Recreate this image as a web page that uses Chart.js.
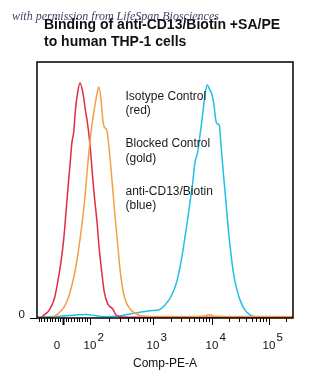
<!DOCTYPE html>
<html>
<head>
<meta charset="utf-8">
<script src="https://cdn.jsdelivr.net/npm/chart.js@4/dist/chart.umd.min.js"></script>
<style>
  body { margin: 0; background: #fff; }
  canvas { display: block; }
</style>
</head>
<body>
<canvas id="histChart" width="336" height="381"></canvas>
<script>
// x values are display channels (0-1024, biexponential axis), y is % of max
const redX    = [0, 9, 29, 49, 69, 83, 96, 107, 116, 125, 133, 140, 147, 153, 163, 172, 183, 193, 203, 212, 220, 229, 240, 249, 259, 269, 283, 303, 316, 340, 400, 600, 800, 1024];
const redY    = [0, 0, 1.2, 3.1, 7.4, 14.1, 21.9, 30.9, 41.4, 52.0, 60.9, 68.8, 72.7, 80.5, 88.3, 91.8, 88.3, 81.6, 75.4, 67.6, 58.2, 48.0, 37.5, 27.0, 18.0, 10.2, 5.5, 3.5, 1.2, 0.4, 0.3, 0.3, 0.3, 0.2];

const goldX   = [0, 49, 83, 109, 129, 149, 163, 176, 187, 196, 205, 213, 223, 232, 239, 247, 256, 263, 269, 279, 287, 296, 305, 313, 323, 332, 343, 356, 376, 396, 420, 500, 600, 670, 690, 710, 800, 900, 1024];
const goldY   = [0, 0, 1.6, 4.3, 9.0, 16.8, 24.6, 33.6, 42.6, 52.0, 62.1, 69.9, 77.7, 83.2, 87.1, 90.2, 85.5, 77.7, 74.6, 73.4, 67.6, 58.2, 48.0, 38.7, 28.5, 19.1, 11.3, 6.3, 3.1, 1.6, 0.8, 0.6, 0.6, 0.8, 1.3, 0.7, 0.6, 0.6, 0.6];

const blueX   = [0, 48, 103, 156, 196, 232, 263, 329, 396, 463, 485, 512, 539, 559, 576, 589, 601, 612, 623, 632, 643, 652, 659, 665, 672, 681, 689, 699, 708, 715, 721, 729, 736, 745, 756, 765, 775, 785, 799, 815, 832, 852, 876, 950, 1024];
const blueY   = [0.4, 0.5, 0.8, 1.2, 1.4, 1.0, 0.5, 0.8, 2.0, 2.9, 3.1, 5.1, 9.0, 14.1, 21.9, 29.7, 37.5, 45.3, 53.1, 60.9, 64.8, 71.5, 76.6, 81.6, 87.1, 91.1, 89.6, 87.6, 83.2, 77.3, 75.8, 75.4, 67.6, 57.0, 45.3, 34.8, 25.8, 18.0, 11.3, 6.3, 3.1, 1.2, 0.4, 0.2, 0.2];

// decade ticks on the biexponential axis
const majorTickX      = [104, 212, 464, 700, 928];
const majorTickBase   = ['0', '10', '10', '10', '10'];
const majorTickExp    = ['', '2', '3', '4', '5'];

const titleLines  = ['Binding of anti-CD13/Biotin +SA/PE', 'to human THP-1 cells'];
const legendLines = [['Isotype Control', '(red)'], ['Blocked Control', '(gold)'], ['anti-CD13/Biotin', '(blue)']];
const xTitle = 'Comp-PE-A';
const watermark = 'with permission from LifeSpan Biosciences';

const FONT = '"Liberation Sans", Arial, sans-serif';

function toPoints(xs, ys) {
    return xs.map((x, i) => ({ x: x, y: ys[i] }));
}

// minor tick channels: linear around zero, log inside each decade
function minorTicks() {
    const out = [];
    const lin = (majorTickX[1] - majorTickX[0]) / 10;
    for (let k = 1; k <= 9; k++) {
        out.push(majorTickX[0] - k * lin);
        out.push(majorTickX[0] + k * lin);
    }
    for (let d = 1; d < majorTickX.length; d++) {
        const a = majorTickX[d];
        const span = d < majorTickX.length - 1 ? majorTickX[d + 1] - a : majorTickX[d] - majorTickX[d - 1];
        for (let k = 2; k <= 9; k++) {
            const p = a + Math.log10(k) * span;
            if (p <= 1024) out.push(p);
        }
    }
    return out;
}

const decorations = {
    id: 'decorations',
    afterDraw(chart) {
        const ctx = chart.ctx;
        const area = chart.chartArea;
        const xs = chart.scales.x;
        ctx.save();

        // plot frame
        ctx.strokeStyle = '#000';
        ctx.lineWidth = 1.5;
        ctx.strokeRect(area.left, area.top, area.right - area.left, area.bottom - area.top);

        // x ticks
        ctx.lineWidth = 1;
        minorTicks().forEach(v => {
            const px = Math.round(xs.getPixelForValue(v)) + 0.5;
            ctx.beginPath();
            ctx.moveTo(px, area.bottom);
            ctx.lineTo(px, area.bottom + 4);
            ctx.stroke();
        });
        majorTickX.forEach((v, i) => {
            const px = Math.round(xs.getPixelForValue(v)) + 0.5;
            ctx.lineWidth = i === 0 ? 2 : 1;
            ctx.beginPath();
            ctx.moveTo(px, area.bottom);
            ctx.lineTo(px, area.bottom + 7);
            ctx.stroke();
        });

        // x tick labels
        ctx.fillStyle = '#111';
        ctx.font = '11.5px ' + FONT;
        ctx.textBaseline = 'alphabetic';
        majorTickX.forEach((v, i) => {
            const px = xs.getPixelForValue(v);
            if (!majorTickExp[i]) {
                ctx.textAlign = 'center';
                ctx.fillText(majorTickBase[i], px - 6, 349);
                return;
            }
            ctx.textAlign = 'center';
            ctx.fillText(majorTickBase[i], px, 349);
            const w = ctx.measureText(majorTickBase[i]).width;
            ctx.textAlign = 'left';
            ctx.fillText(majorTickExp[i], px + w / 2 + 1, 341);
        });

        // x title
        ctx.font = '12px ' + FONT;
        ctx.textAlign = 'center';
        ctx.fillText(xTitle, (area.left + area.right) / 2, 366.5);

        // legend text inside plot
        ctx.textAlign = 'left';
        ctx.fillStyle = '#1a1a1a';
        legendLines.forEach((pair, g) => {
            const base = 99.5 + g * 47.5;
            ctx.fillText(pair[0], 125.5, base);
            ctx.fillText(pair[1], 125.5, base + 14.5);
        });

        // title
        ctx.fillStyle = '#111';
        ctx.font = 'bold 14px ' + FONT;
        ctx.fillText(titleLines[0], 44, 28.5);
        ctx.fillText(titleLines[1], 44, 46);

        // watermark
        ctx.fillStyle = '#3b4663';
        ctx.font = 'italic 12px "Liberation Serif", serif';
        ctx.fillText(watermark, 12, 19.5);

        ctx.restore();
    }
};

const lineStyle = { borderWidth: 1.5, pointRadius: 0, fill: false, cubicInterpolationMode: 'monotone' };

new Chart(document.getElementById('histChart').getContext('2d'), {
    type: 'line',
    data: {
        datasets: [
            Object.assign({ label: 'Blocked Control', data: toPoints(goldX, goldY), borderColor: '#f2a043' }, lineStyle),
            Object.assign({ label: 'Isotype Control', data: toPoints(redX, redY), borderColor: '#e22a4a' }, lineStyle),
            Object.assign({ label: 'anti-CD13/Biotin', data: toPoints(blueX, blueY), borderColor: '#22bfe6' }, lineStyle)
        ]
    },
    options: {
        responsive: false,
        animation: false,
        devicePixelRatio: 1,
        layout: { padding: { top: 62, right: 43, left: 0, bottom: 0 } },
        plugins: { legend: { display: false }, tooltip: { enabled: false } },
        scales: {
            x: {
                type: 'linear',
                min: 0,
                max: 1024,
                ticks: { display: false },
                grid: { display: false },
                border: { display: false },
                afterFit: s => { s.height = 63; }
            },
            y: {
                min: 0,
                max: 100,
                afterBuildTicks: s => { s.ticks = [{ value: 0 }]; },
                ticks: { color: '#111', font: { size: 11.5, family: FONT }, padding: 5, labelOffset: -3, callback: v => String(v) },
                grid: { drawOnChartArea: false, tickLength: 7, tickColor: '#000' },
                border: { display: false },
                afterFit: s => { s.width = 37; }
            }
        }
    },
    plugins: [decorations]
});
</script>
</body>
</html>
